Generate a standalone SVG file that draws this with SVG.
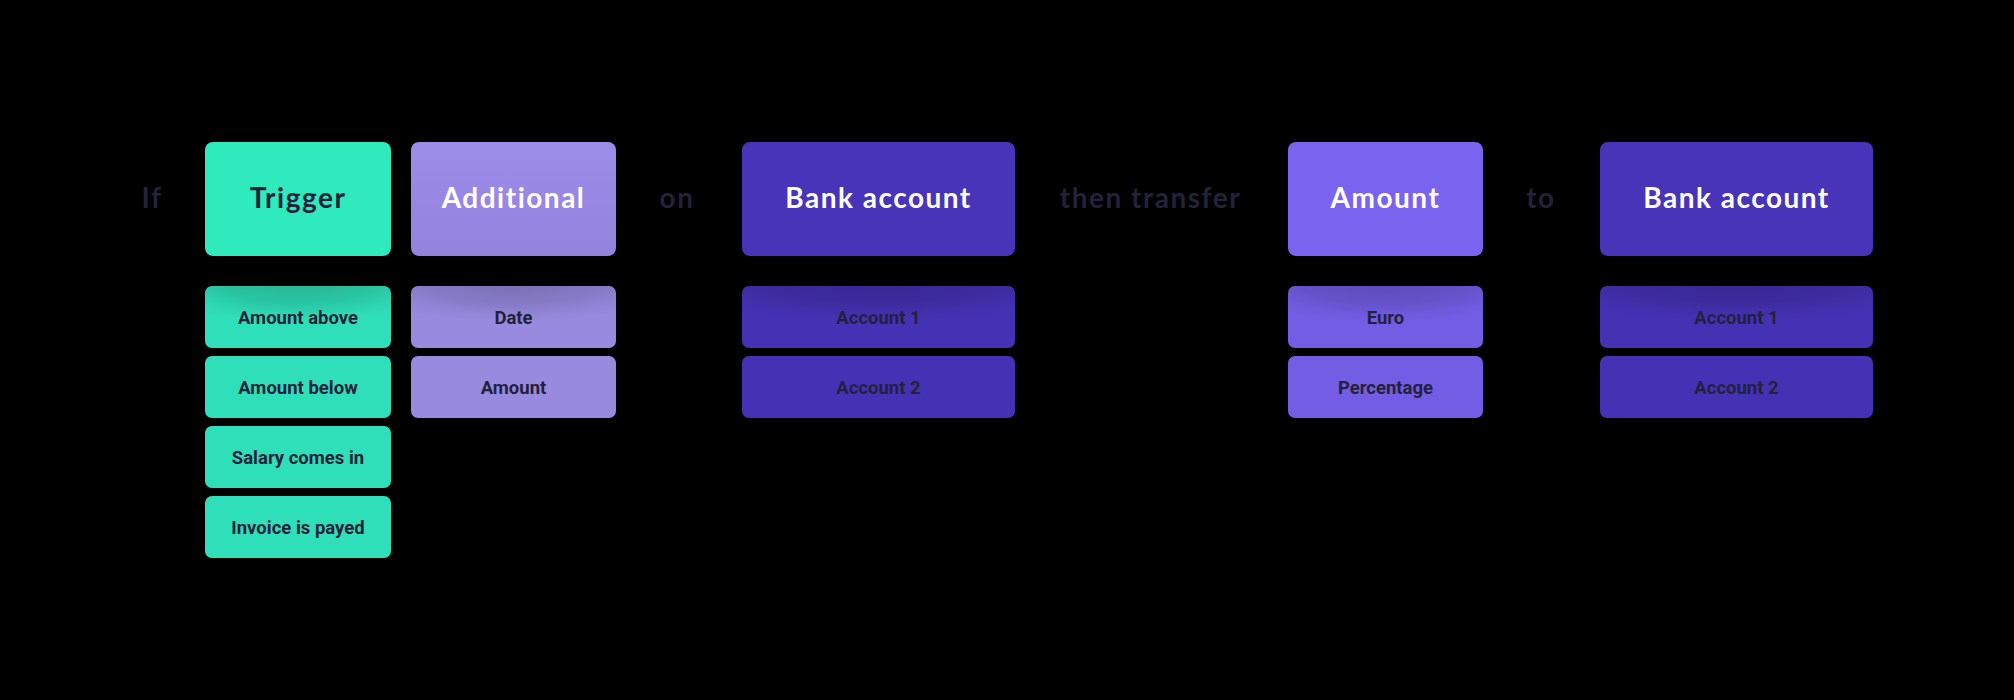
<svg xmlns="http://www.w3.org/2000/svg" width="2014" height="700" viewBox="0 0 2014 700">
  <style>
    .hd { font-family: Lato, "Open Sans", sans-serif; font-weight: 700; font-size: 28px; letter-spacing: 1.5px; text-anchor: middle; }
    .white { fill: #FFFFFF; }
    .word { fill: #23223A; }
    .sub { font-family: Roboto, "Liberation Sans", sans-serif; font-weight: 700; font-size: 18.5px; fill: #23223A; text-anchor: middle; }
    .green-h { fill: #2EEABD; }
    .green-s { fill: #2FDFB9; }
    .lilac-h { fill: url(#lilacGrad); }
    .lilac-s { fill: #978ADF; }
    .indigo-h { fill: #4834B9; }
    .indigo-s { fill: #4531B4; }
    .violet-h { fill: #7A63EF; }
    .violet-s { fill: #725DE4; }
    .shade { fill: url(#topShade); }
  </style>
  <defs>
    <linearGradient id="lilacGrad" x1="0" y1="0" x2="0" y2="1">
      <stop offset="0" stop-color="#9C8DE9"/>
      <stop offset="1" stop-color="#9483DD"/>
    </linearGradient>
    <radialGradient id="topShade" cx="0.5" cy="-0.1" r="0.8" gradientTransform="translate(0.5 -0.1) scale(1 0.85) translate(-0.5 0.1)">
      <stop offset="0" stop-color="#000000" stop-opacity="0.2"/>
      <stop offset="0.55" stop-color="#000000" stop-opacity="0.12"/>
      <stop offset="0.85" stop-color="#000000" stop-opacity="0.03"/>
      <stop offset="1" stop-color="#000000" stop-opacity="0"/>
    </radialGradient>
  </defs>
  <rect x="0" y="0" width="2014" height="700" fill="#000000"/>

  <g id="connectors"></g>

  <g id="words">
    <text class="hd word" x="152" y="208">If</text>
    <text class="hd word" x="677" y="208">on</text>
    <text class="hd word" x="1150.5" y="208">then transfer</text>
    <text class="hd word" x="1541" y="208">to</text>
  </g>

  <g id="trigger">
    <rect class="green-h" x="205" y="142" width="186" height="114" rx="8"/>
    <text class="hd word" x="298" y="208">Trigger</text>
  </g>
  <g id="trigger-options">
    <rect class="green-s" x="205" y="286" width="186" height="62" rx="7"/>
    <rect class="shade" x="205" y="286" width="186" height="62" rx="7"/>
    <text class="sub" x="298" y="324">Amount above</text>
    <rect class="green-s" x="205" y="356" width="186" height="62" rx="7"/>
    <text class="sub" x="298" y="394">Amount below</text>
    <rect class="green-s" x="205" y="426" width="186" height="62" rx="7"/>
    <text class="sub" x="298" y="464">Salary comes in</text>
    <rect class="green-s" x="205" y="496" width="186" height="62" rx="7"/>
    <text class="sub" x="298" y="534">Invoice is payed</text>
  </g>

  <g id="additional">
    <rect class="lilac-h" x="411" y="142" width="205" height="114" rx="8"/>
    <text class="hd white" x="513.5" y="208">Additional</text>
  </g>
  <g id="additional-options">
    <rect class="lilac-s" x="411" y="286" width="205" height="62" rx="7"/>
    <rect class="shade" x="411" y="286" width="205" height="62" rx="7"/>
    <text class="sub" x="513.5" y="324">Date</text>
    <rect class="lilac-s" x="411" y="356" width="205" height="62" rx="7"/>
    <text class="sub" x="513.5" y="394">Amount</text>
  </g>

  <g id="bank-account-from">
    <rect class="indigo-h" x="742" y="142" width="273" height="114" rx="8"/>
    <text class="hd white" x="878.5" y="208">Bank account</text>
  </g>
  <g id="bank-account-from-options">
    <rect class="indigo-s" x="742" y="286" width="273" height="62" rx="7"/>
    <rect class="shade" x="742" y="286" width="273" height="62" rx="7"/>
    <text class="sub" x="878.5" y="324">Account 1</text>
    <rect class="indigo-s" x="742" y="356" width="273" height="62" rx="7"/>
    <text class="sub" x="878.5" y="394">Account 2</text>
  </g>

  <g id="amount">
    <rect class="violet-h" x="1288" y="142" width="195" height="114" rx="8"/>
    <text class="hd white" x="1385.5" y="208">Amount</text>
  </g>
  <g id="amount-options">
    <rect class="violet-s" x="1288" y="286" width="195" height="62" rx="7"/>
    <rect class="shade" x="1288" y="286" width="195" height="62" rx="7"/>
    <text class="sub" x="1385.5" y="324">Euro</text>
    <rect class="violet-s" x="1288" y="356" width="195" height="62" rx="7"/>
    <text class="sub" x="1385.5" y="394">Percentage</text>
  </g>

  <g id="bank-account-to">
    <rect class="indigo-h" x="1600" y="142" width="273" height="114" rx="8"/>
    <text class="hd white" x="1736.5" y="208">Bank account</text>
  </g>
  <g id="bank-account-to-options">
    <rect class="indigo-s" x="1600" y="286" width="273" height="62" rx="7"/>
    <rect class="shade" x="1600" y="286" width="273" height="62" rx="7"/>
    <text class="sub" x="1736.5" y="324">Account 1</text>
    <rect class="indigo-s" x="1600" y="356" width="273" height="62" rx="7"/>
    <text class="sub" x="1736.5" y="394">Account 2</text>
  </g>
</svg>
